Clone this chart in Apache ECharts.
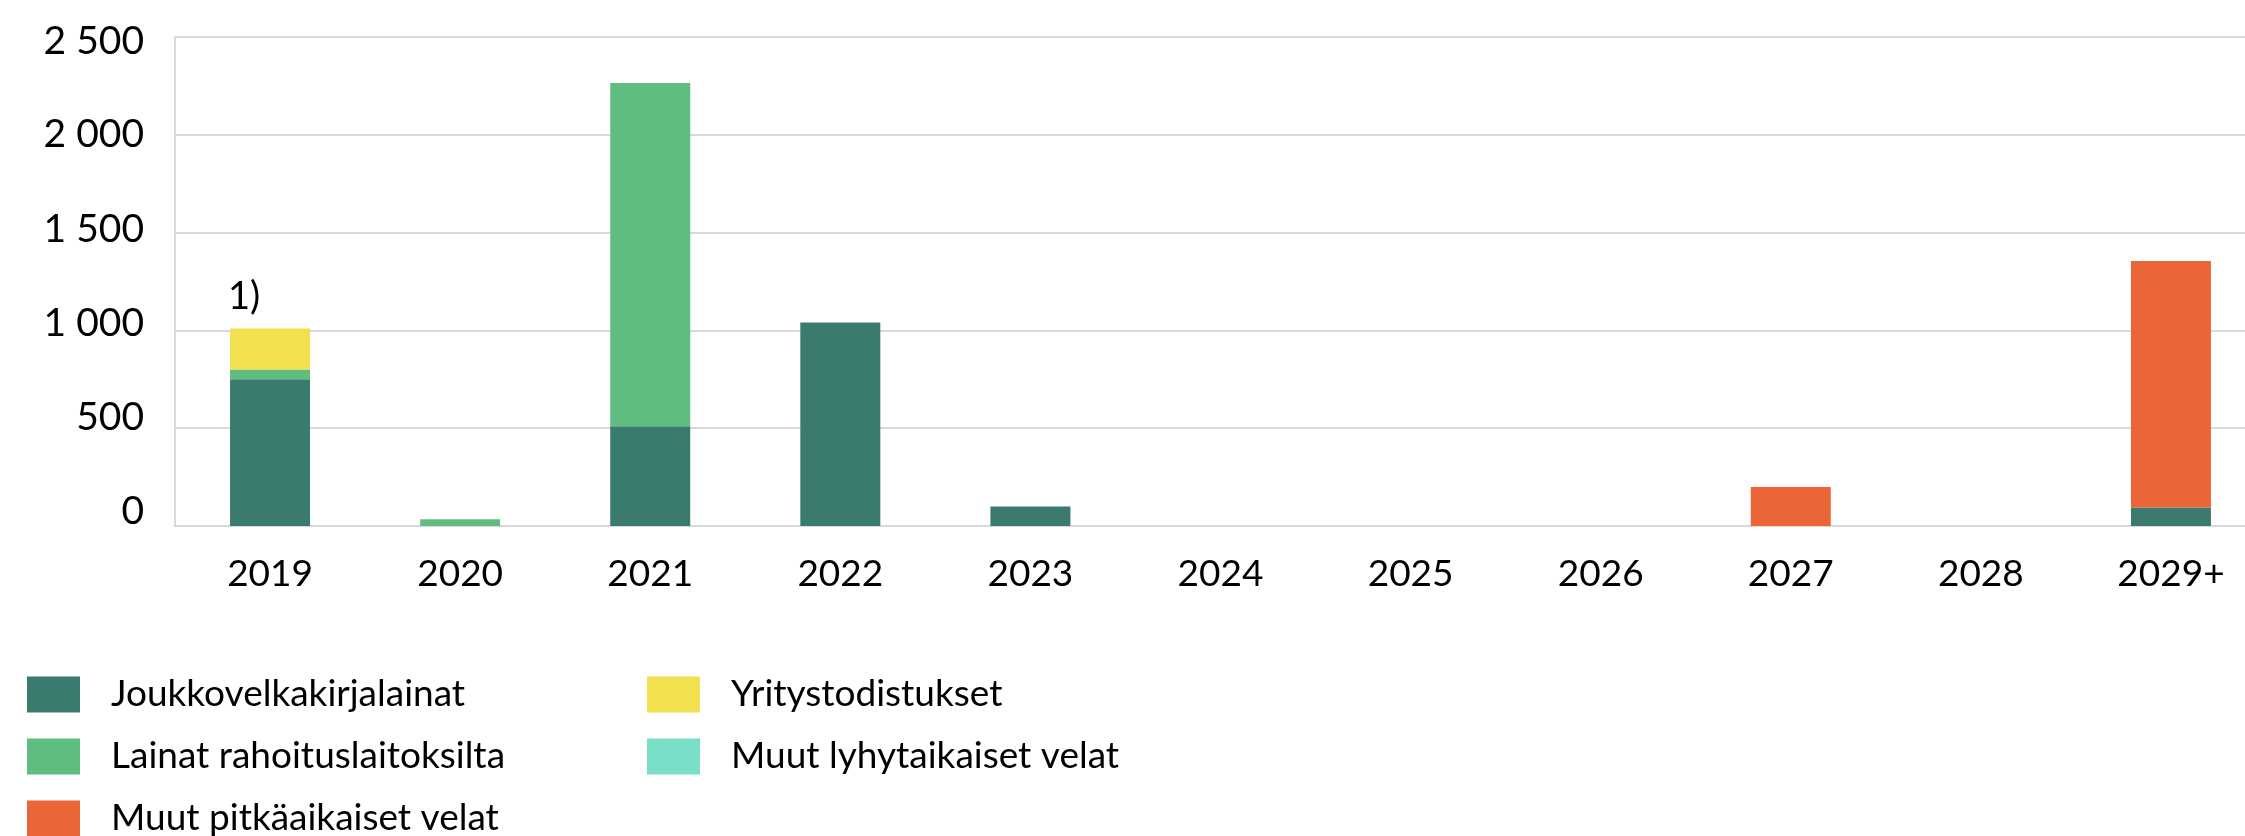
<!DOCTYPE html>
<html>
<head>
<meta charset="utf-8">
<script src="https://cdn.jsdelivr.net/npm/echarts@6/dist/echarts.min.js"></script>
<style>
  html, body { margin: 0; padding: 0; background: #fff; }
  #chart { width: 2245px; height: 836px; }
</style>
</head>
<body>
<div id="chart"></div>
<script>
const years = ['2019', '2020', '2021', '2022', '2023', '2024', '2025', '2026', '2027', '2028', '2029+']

// values (MEUR)
const joukkovelkakirjalainat = [750, 0, 510, 1040, 100, 0, 0, 0, 0, 0, 95]
const lainatRahoituslaitoksilta = [50, 35, 1755, 0, 0, 0, 0, 0, 0, 0, 0]
const yritystodistukset = [210, 0, 0, 0, 0, 0, 0, 0, 0, 0, 0]
const muutLyhytaikaiset = [0, 0, 0, 0, 0, 0, 0, 0, 0, 0, 0]
const muutPitkaaikaiset = [0, 0, 0, 0, 0, 0, 0, 0, 200, 0, 1260]

const yTicks = [0, 500, 1000, 1500, 2000, 2500]
const footnote = '1)'

const FONT = 'Lato, "Noto Sans", sans-serif'
const GRID = '#d9d9d9'

const names = [
    'Joukkovelkakirjalainat',
    'Lainat rahoituslaitoksilta',
    'Yritystodistukset',
    'Muut lyhytaikaiset velat',
    'Muut pitkäaikaiset velat'
]
const colors = ['#3b7a6e', '#5fbe7f', '#f2e04e', '#79dfc8', '#ea6537']
const values = [joukkovelkakirjalainat, lainatRahoituslaitoksilta, yritystodistukset, muutLyhytaikaiset, muutPitkaaikaiset]

const fmt = (v) => v >= 1000 ? Math.floor(v / 1000) + ' ' + String(v % 1000).padStart(3, '0') : String(v)

// the source draws its y labels a bit squeezed: low ones sit above their gridline
const labelShift = [15, 11, 7, 3, 0, -4]
const yRich = {}
labelShift.forEach((d, i) => {
    yRich['s' + i] = {
        fontFamily: FONT,
        fontSize: 39,
        color: '#000',
        padding: d >= 0 ? [0, 0, 2 * d, 0] : [-2 * d, 0, 0, 0]
    }
})

const chart = echarts.init(document.getElementById('chart'))

const series = names.map((name, s) => ({
    name,
    type: 'bar',
    stack: 'total',
    barWidth: 80,
    itemStyle: { color: colors[s] },
    data: values[s].map((v, i) => {
        // footnote marker on the first bar
        if (s === 2 && i === 0) {
            return {
                value: v,
                label: {
                    show: true,
                    formatter: footnote,
                    position: 'top',
                    offset: [-26, -8],
                    fontFamily: FONT,
                    fontSize: 38,
                    color: '#000'
                }
            }
        }
        return v
    })
}))

const legendCommon = {
    orient: 'vertical',
    top: 676,
    height: 300,
    icon: 'rect',
    itemWidth: 53,
    itemHeight: 36,
    itemGap: 25,
    padding: 0,
    selectedMode: false,
    textStyle: { fontFamily: FONT, fontSize: 37, color: '#000', padding: [0, 0, 0, 26] }
}

chart.setOption({
    animation: false,
    backgroundColor: '#fff',
    color: colors,
    grid: {
        left: 175,
        right: -21,
        top: 37,
        bottom: 310,
        containLabel: false,
        outerBoundsMode: 'none'
    },
    legend: [
        Object.assign({ left: 27, data: [names[0], names[1], names[4]] }, legendCommon),
        Object.assign({ left: 647, data: [names[2], names[3]] }, legendCommon)
    ],
    xAxis: {
        type: 'category',
        data: years,
        axisLine: { show: true, lineStyle: { color: GRID, width: 2 } },
        axisTick: { show: false },
        axisLabel: { fontFamily: FONT, fontSize: 37, color: '#000', margin: 30 }
    },
    yAxis: {
        type: 'value',
        min: yTicks[0],
        max: yTicks[yTicks.length - 1],
        interval: 500,
        axisLine: { show: true, lineStyle: { color: GRID, width: 2 } },
        axisTick: { show: false },
        splitLine: { lineStyle: { color: GRID, width: 2 } },
        axisLabel: {
            fontFamily: FONT,
            fontSize: 39,
            color: '#000',
            margin: 31,
            formatter: (v) => {
                const i = yTicks.indexOf(v)
                return '{s' + i + '|' + fmt(v) + '}'
            },
            rich: yRich
        }
    },
    series
})
</script>
</body>
</html>
